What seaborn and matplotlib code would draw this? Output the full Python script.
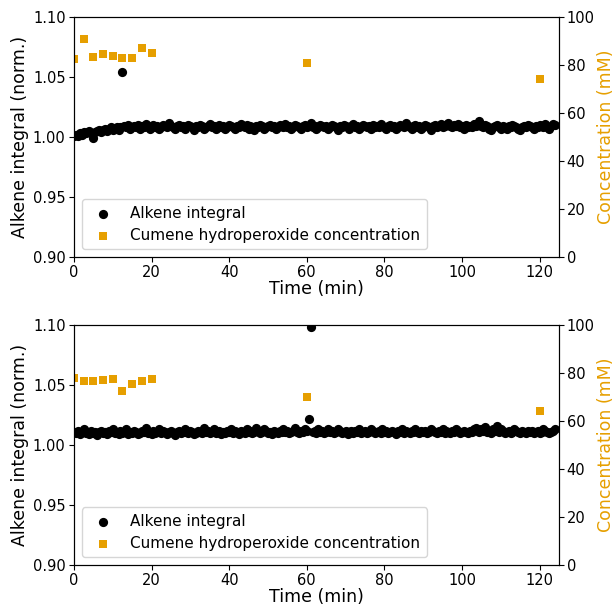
import numpy as np
import pandas as pd
import matplotlib
matplotlib.use("Agg")
import matplotlib.pyplot as plt
import seaborn as sns

ORANGE = "#E69F00"

# alkene integral, one reading every 0.5 min
alkene_top = [
    1.001, 1.002, 1.001, 1.003, 1.002, 1.004, 1.003,
    1.004, 1.005, 1.003, 0.999, 1.004, 1.005, 1.006, 1.004,
    1.006, 1.007, 1.005, 1.007, 1.008, 1.006,
    1.007, 1.008, 1.006, 1.008, 1.054, 1.009, 1.008, 1.010, 1.007, 1.008,
    1.009, 1.008, 1.010, 1.007, 1.009, 1.008, 1.011, 1.008, 1.007, 1.009, 1.010, 1.008,
    1.009, 1.007, 1.008, 1.010, 1.009, 1.008, 1.012, 1.009, 1.008, 1.007, 1.009, 1.010,
    1.008, 1.009, 1.007, 1.008, 1.010, 1.009, 1.008, 1.006, 1.009, 1.008, 1.010, 1.009,
    1.007, 1.008, 1.009, 1.011, 1.008, 1.009, 1.007, 1.008, 1.010, 1.008, 1.009, 1.007,
    1.008, 1.010, 1.009, 1.008, 1.007, 1.009, 1.008, 1.011, 1.009, 1.008, 1.010, 1.007,
    1.009, 1.008, 1.006, 1.009, 1.008, 1.010, 1.009, 1.007, 1.008, 1.009, 1.010, 1.008,
    1.009, 1.007, 1.008, 1.010, 1.009, 1.008, 1.011, 1.008, 1.009, 1.007, 1.008, 1.010,
    1.009, 1.008, 1.007, 1.009, 1.010, 1.008, 1.009, 1.012, 1.008, 1.009, 1.007, 1.008,
    1.010, 1.009, 1.008, 1.009, 1.007, 1.008, 1.010, 1.009, 1.008, 1.006, 1.009, 1.008,
    1.010, 1.009, 1.008, 1.007, 1.009, 1.011, 1.008, 1.009, 1.007, 1.008, 1.010, 1.009,
    1.008, 1.009, 1.007, 1.010, 1.008, 1.009, 1.008, 1.011, 1.009, 1.008, 1.007, 1.009,
    1.010, 1.008, 1.009, 1.007, 1.008, 1.010, 1.009, 1.008, 1.012, 1.009, 1.008, 1.007,
    1.009, 1.010, 1.008, 1.009, 1.007, 1.008, 1.010, 1.009, 1.008, 1.006, 1.009, 1.010,
    1.008, 1.009, 1.011, 1.008, 1.009, 1.010, 1.012, 1.009, 1.008, 1.010, 1.009, 1.011,
    1.008, 1.009, 1.007, 1.010, 1.008, 1.009, 1.008, 1.011, 1.009, 1.010, 1.013, 1.009,
    1.008, 1.010, 1.009, 1.007, 1.006, 1.008, 1.009, 1.010, 1.008, 1.007, 1.009, 1.008,
    1.007, 1.009, 1.008, 1.010, 1.009, 1.008, 1.007, 1.006, 1.008, 1.009, 1.008, 1.010,
    1.009, 1.008, 1.007, 1.009, 1.008, 1.010, 1.009, 1.008, 1.011,
    1.008, 1.007, 1.009, 1.011, 1.010,
]

alkene_bottom = [
    1.011, 1.010, 1.012, 1.009, 1.011, 1.013, 1.010, 1.011, 1.009, 1.012, 1.010, 1.011,
    1.008, 1.011, 1.012, 1.010, 1.011, 1.009, 1.012, 1.011, 1.013, 1.010, 1.011, 1.009,
    1.012, 1.010, 1.011, 1.013, 1.009, 1.011, 1.010, 1.012, 1.011, 1.009, 1.010, 1.012,
    1.011, 1.014, 1.010, 1.011, 1.009, 1.012, 1.010, 1.011, 1.013, 1.010, 1.012, 1.011,
    1.009, 1.011, 1.012, 1.010, 1.008, 1.011, 1.012, 1.010, 1.011, 1.013, 1.011, 1.010,
    1.012, 1.011, 1.009, 1.010, 1.012, 1.011, 1.010, 1.014, 1.011, 1.012, 1.010, 1.011,
    1.013, 1.010, 1.011, 1.012, 1.009, 1.011, 1.010, 1.012, 1.011, 1.013, 1.010, 1.012,
    1.011, 1.009, 1.012, 1.011, 1.010, 1.013, 1.011, 1.012, 1.010, 1.011, 1.014, 1.012,
    1.010, 1.011, 1.013, 1.012, 1.010, 1.011, 1.009, 1.012, 1.011, 1.010, 1.012, 1.011,
    1.013, 1.011, 1.012, 1.010, 1.011, 1.012, 1.014, 1.011, 1.010, 1.012, 1.011, 1.013,
    1.012, 1.022, 1.098, 1.011, 1.012, 1.010, 1.013, 1.011, 1.012, 1.010, 1.011, 1.013,
    1.011, 1.012, 1.010, 1.011, 1.013, 1.012, 1.010, 1.011, 1.012, 1.009, 1.011, 1.012,
    1.010, 1.012, 1.011, 1.013, 1.010, 1.011, 1.012, 1.010, 1.011, 1.013, 1.012, 1.010,
    1.011, 1.012, 1.010, 1.013, 1.011, 1.012, 1.010, 1.011, 1.012, 1.011, 1.009, 1.012,
    1.011, 1.013, 1.010, 1.012, 1.011, 1.010, 1.012, 1.011, 1.013, 1.011, 1.010, 1.012,
    1.011, 1.012, 1.010, 1.011, 1.013, 1.012, 1.011, 1.010, 1.012, 1.011, 1.013, 1.010,
    1.012, 1.011, 1.010, 1.012, 1.011, 1.013, 1.012, 1.010, 1.011, 1.012, 1.011, 1.010,
    1.012, 1.011, 1.013, 1.014, 1.012, 1.011, 1.013, 1.012, 1.015, 1.011, 1.012, 1.010,
    1.013, 1.012, 1.016, 1.011, 1.013, 1.012, 1.010, 1.011, 1.012, 1.010, 1.011, 1.013,
    1.012, 1.011, 1.010, 1.012, 1.011, 1.010, 1.012, 1.011, 1.012,
    1.010, 1.011, 1.012, 1.010, 1.011, 1.013, 1.012, 1.011, 1.010, 1.011, 1.012, 1.013,
]

# cumene hydroperoxide samples
chp_time = [0, 2.5, 5, 7.5, 10, 12.5, 15, 17.5, 20, 60, 120]
chp_top = [82.5, 90.7, 83.5, 84.6, 83.8, 82.8, 82.8, 87.1, 84.9, 80.8, 74.2]
chp_bottom = [77.9, 76.7, 76.7, 77.0, 77.5, 72.4, 75.3, 76.5, 77.5, 69.9, 64.3]

fig = plt.figure(figsize=(6.16, 6.06), dpi=100)
ax_top = fig.add_axes([0.120, 0.576, 0.7875, 0.396])
ax_bot = fig.add_axes([0.120, 0.0677, 0.7875, 0.396])

for ax, alk, chp in [(ax_top, alkene_top, chp_top), (ax_bot, alkene_bottom, chp_bottom)]:
    df = pd.DataFrame({"t": np.arange(len(alk)) * 0.5, "alk": alk})
    dc = pd.DataFrame({"t": chp_time, "c": chp})
    sns.scatterplot(data=df, x="t", y="alk", ax=ax, color="black", s=44,
                    linewidth=0, label="Alkene integral", legend=False, zorder=3)
    ax2 = ax.twinx()
    sns.scatterplot(data=dc, x="t", y="c", ax=ax2, color=ORANGE, marker="s", s=26,
                    linewidth=0, label="Cumene hydroperoxide concentration", legend=False)
    ax.set_zorder(ax2.get_zorder() + 1)
    ax.patch.set_visible(False)
    ax.set_xlim(0, 125)
    ax.set_ylim(0.90, 1.10)
    ax.set_yticks([0.90, 0.95, 1.00, 1.05, 1.10])
    ax.set_yticklabels(["0.90", "0.95", "1.00", "1.05", "1.10"])
    ax2.set_ylim(0, 100)
    ax.tick_params(labelsize=10.5, pad=2.5)
    ax2.tick_params(labelsize=10.5, pad=2)
    ax.set_xlabel("Time (min)", fontsize=12.5, labelpad=0)
    ax.set_ylabel("Alkene integral (norm.)", fontsize=12.5, labelpad=3)
    ax2.set_ylabel("Concentration (mM)", fontsize=12.5, color=ORANGE, labelpad=2)
    h1, l1 = ax.get_legend_handles_labels()
    h2, l2 = ax2.get_legend_handles_labels()
    ax.legend(h1 + h2, l1 + l2, loc="lower left", fontsize=11)

fig.savefig("out.png", dpi=100)
